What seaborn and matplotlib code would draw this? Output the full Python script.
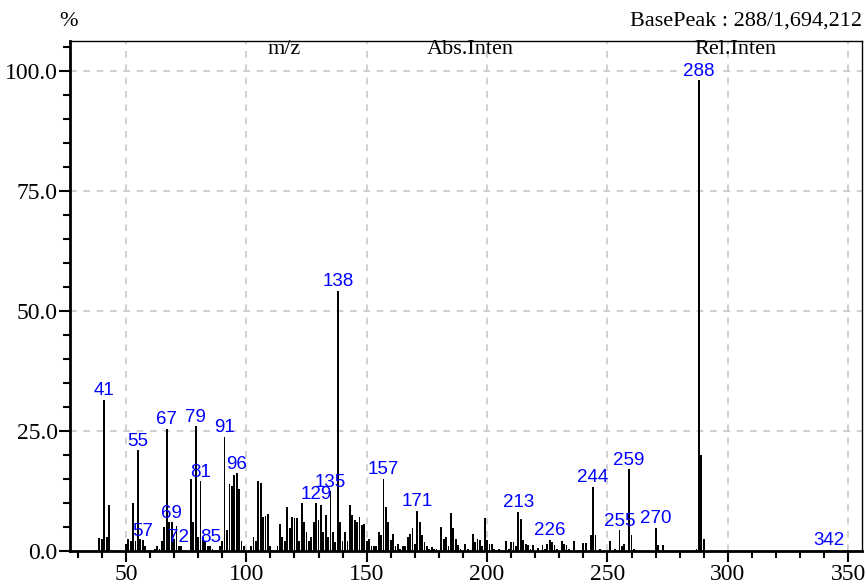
import numpy as np
import pandas as pd
import matplotlib
matplotlib.use("Agg")
import matplotlib.pyplot as plt
from matplotlib.ticker import MultipleLocator, FormatStrFormatter
import seaborn as sns

sns.set_theme(style="white")
plt.rcParams["font.family"] = ["Liberation Serif", "DejaVu Serif"]

# ---- data (m/z, relative intensity %) ----
mz = [39, 40, 41, 42, 43,
      50, 51, 52, 53, 54, 55, 56, 57, 58,
      62, 63, 64, 65, 66, 67, 68, 69, 70, 71, 72, 73,
      77, 78, 79, 80, 81, 82, 83, 84, 85, 86,
      89, 90, 91, 92, 93, 94, 95, 96, 97, 98, 99,
      102, 103, 104, 105, 106, 107, 108, 109, 110,
      113, 114, 115, 116, 117, 118, 119, 120, 121, 122, 123, 124, 125, 126, 127, 128,
      129, 130, 131, 132, 133, 134, 135, 136, 137, 138, 139, 140, 141, 142, 143, 144,
      145, 146, 147, 148, 149, 150, 151, 152, 153, 154, 155, 156, 157, 158, 159, 160,
      161, 162, 163, 164, 165, 166, 167, 168, 169, 170, 171, 172, 173, 174, 175, 176,
      177, 178, 179, 181, 182, 183, 184, 185, 186, 187, 188, 189, 191, 192, 194, 195,
      196, 197, 198, 199, 200, 201, 202, 203, 205, 208, 209, 210, 211, 212, 213, 214,
      215, 216, 217, 218, 219, 221, 223, 224, 225, 226, 227, 228, 229, 231, 232, 233,
      234, 236, 240, 241, 243, 244, 245, 247, 251, 253, 255, 256, 257, 259, 260, 261,
      270, 271, 273, 287, 288, 289, 290, 342]
intensity = [2.8, 2.5, 31.5, 3.0, 9.5,
             1.5, 2.5, 2.0, 10.0, 2.0, 21.0, 2.5, 2.2, 1.0,
             0.5, 1.0, 0.5, 2.0, 5.0, 25.5, 6.0, 6.0, 2.5, 5.3, 1.0, 1.0,
             15.0, 6.0, 26.0, 3.0, 14.5, 3.0, 2.0, 1.0, 1.0, 0.5,
             1.0, 2.0, 23.8, 4.3, 14.0, 13.5, 15.8, 16.2, 13.0, 2.0, 1.0,
             1.0, 2.9, 2.0, 14.6, 14.1, 7.0, 7.2, 7.8, 1.0,
             1.0, 5.7, 3.0, 2.0, 9.2, 4.7, 7.1, 6.8, 6.8, 2.0, 9.9, 6.0, 4.0, 2.0, 3.0, 6.0,
             9.9, 6.4, 9.6, 4.0, 7.5, 3.0, 12.4, 4.0, 1.9, 54.2, 6.0, 2.0, 4.0, 2.0, 9.6, 7.5,
             6.4, 6.0, 7.1, 5.4, 5.7, 2.0, 2.6, 1.0, 1.0, 1.0, 4.0, 3.3, 15.1, 9.2, 6.0, 2.2,
             3.6, 1.0, 1.5, 0.5, 1.0, 1.0, 2.9, 3.6, 4.7, 1.5, 8.3, 6.0, 3.3, 1.9, 1.0, 0.5,
             0.8, 0.5, 0.5, 5.0, 2.6, 2.9, 1.0, 8.0, 4.7, 2.6, 1.3, 0.5, 1.5, 0.5, 3.6, 1.9,
             2.6, 2.2, 1.0, 6.8, 2.2, 1.5, 1.5, 0.5, 0.5, 2.0, 0.5, 1.9, 1.9, 1.0, 8.2, 6.6,
             2.2, 1.5, 1.3, 0.5, 1.2, 0.6, 1.2, 0.5, 1.5, 2.3, 1.9, 1.2, 0.5, 2.0, 1.5, 1.2,
             0.5, 2.0, 1.7, 1.7, 3.3, 13.3, 3.3, 0.5, 2.0, 0.5, 4.3, 1.0, 1.5, 17.0, 3.3, 0.5,
             4.8, 1.2, 1.2, 0.5, 100.0, 20.0, 2.5, 0.3]
labeled_peaks = [41, 55, 57, 67, 69, 72, 79, 81, 85, 91, 96, 129, 135, 138,
                 157, 171, 213, 226, 244, 255, 259, 270, 288, 342]
column_headers = ["m/z", "Abs.Inten", "Rel.Inten"]
base_peak_text = "BasePeak : 288/1,694,212"

df = pd.DataFrame({"mz": mz, "intensity": intensity})
peak_map = dict(zip(mz, intensity))

W, H = 866, 585
fig = plt.figure(figsize=(W / 100, H / 100), dpi=100)
fig.patch.set_facecolor("white")
ax = fig.add_axes([70 / W, 1 - 551 / H, (862 - 70) / W, (551 - 41) / H])
ax.set_facecolor("white")

sns.histplot(data=df, x="mz", weights="intensity", discrete=True, shrink=0.75,
             color="black", alpha=1, linewidth=0, ax=ax, zorder=3)

ax.set_xlim(26.8, 355.7)
ax.set_ylim(0, 106.25)
ax.set_xlabel("")
ax.set_ylabel("")

ax.xaxis.set_major_locator(MultipleLocator(50))
ax.xaxis.set_minor_locator(MultipleLocator(10))
ax.yaxis.set_major_locator(MultipleLocator(25))
ax.yaxis.set_minor_locator(MultipleLocator(5))
ax.yaxis.set_major_formatter(FormatStrFormatter("%.1f"))

ax.set_axisbelow(True)
ax.grid(True, which="major", color="#c8c8c8", linestyle=(0, (4, 4)), linewidth=1.2)

for side in ["top", "right"]:
    ax.spines[side].set_visible(True)
    ax.spines[side].set_color("black")
    ax.spines[side].set_linewidth(1.0)
for side in ["left", "bottom"]:
    ax.spines[side].set_color("black")
    ax.spines[side].set_linewidth(2.0)

ax.tick_params(axis="both", which="major", direction="out", length=8, width=1.5,
               color="black", labelcolor="black", labelsize=17, pad=1,
               bottom=True, left=True)
ax.tick_params(axis="both", which="minor", direction="out", length=5, width=1.5,
               color="black", bottom=True, left=True)

top_peak = max(intensity)
for m in labeled_peaks:
    h = peak_map[m]
    if h >= top_peak:
        # base peak label sits on the 100 % line with a white backing
        ax.annotate(str(m), xy=(m, h), xytext=(0, 0), textcoords="offset points",
                    ha="center", va="center", color="#0000ff", fontsize=13.5,
                    family="Liberation Sans", zorder=6,
                    bbox=dict(boxstyle="square,pad=0.05", fc="white", ec="none"))
    else:
        ax.annotate(str(m), xy=(m, h), xytext=(0, 0.5), textcoords="offset points",
                    ha="center", va="bottom", color="#0000ff", fontsize=13.5,
                    family="Liberation Sans", zorder=5)

header_x = [0.271, 0.505, 0.840]
for txt, x in zip(column_headers, header_x):
    ax.text(x, 0.984, txt, transform=ax.transAxes, ha="center", va="center",
            fontsize=16, color="black")

fig.text(68 / W, 1 - 22 / H, "%", ha="center", va="center", fontsize=16, color="black")
fig.text(862 / W, 1 - 21 / H, base_peak_text, ha="right", va="center",
         fontsize=16, color="black")

fig.savefig("out.png", dpi=100, facecolor="white")
